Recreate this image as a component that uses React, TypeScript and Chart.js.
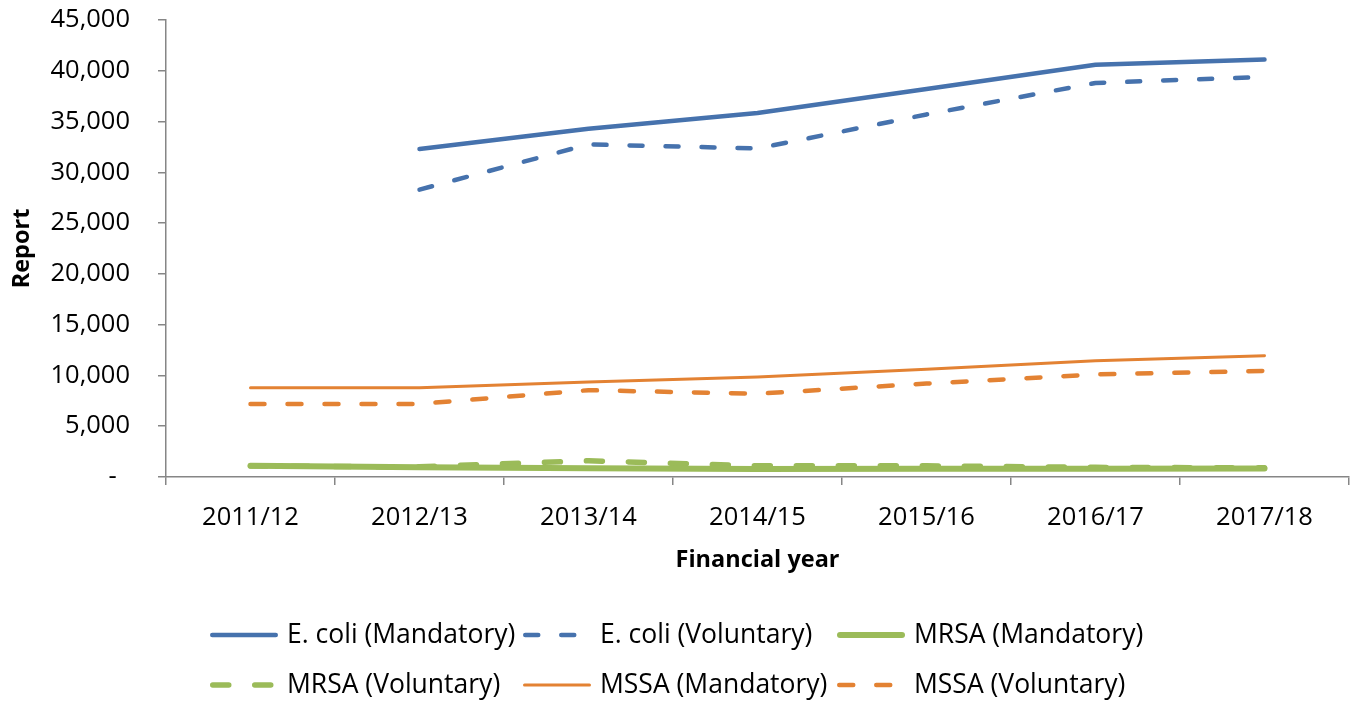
import React, { useEffect, useRef } from 'react';
import { Chart, registerables } from 'chart.js';

Chart.register(...registerables);

const categories = ['2011/12', '2012/13', '2013/14', '2014/15', '2015/16', '2016/17', '2017/18'];
const ecoliMandatory = [null, 32300, 34300, 35850, 38200, 40600, 41100];
const ecoliVoluntary = [null, 28300, 32750, 32350, 35700, 38800, 39400];
const mrsaMandatory = [1100, 950, 860, 800, 820, 820, 830];
const mrsaVoluntary = [1080, 1000, 1600, 1100, 1100, 950, 900];
const mssaMandatory = [8800, 8800, 9350, 9850, 10600, 11450, 11950];
const mssaVoluntary = [7180, 7200, 8550, 8200, 9200, 10100, 10450];
const seriesNames = [
  'E. coli (Mandatory)',
  'E. coli (Voluntary)',
  'MRSA (Mandatory)',
  'MRSA (Voluntary)',
  'MSSA (Mandatory)',
  'MSSA (Voluntary)',
];
const yMin = 0;
const yMax = 45000;
const yStep = 5000;

const FONT = '"Open Sans", sans-serif';
const AXIS = '#868686';
const BLUE = '#4672AD';
const GREEN = '#9BBB59';
const ORANGE = '#E38233';

const W = 1354;
const H = 702;

// legend layout (canvas = page coordinates)
const LEGEND_COLS = [210, 523, 837];
const LEGEND_ROWS = [635, 685];
const LEGEND_SAMPLE = 68;
const LEGEND_TEXT_GAP = 9;

const legendPlugin = {
  id: 'gridLegend',
  afterDraw(chart: any) {
    const ctx = chart.ctx as CanvasRenderingContext2D;
    chart.data.datasets.forEach((ds: any, i: number) => {
      const col = i % 3;
      const row = Math.floor(i / 3);
      const x = LEGEND_COLS[col];
      const y = LEGEND_ROWS[row];
      ctx.save();
      ctx.strokeStyle = ds.borderColor;
      ctx.lineWidth = ds.borderWidth;
      ctx.lineCap = 'round';
      ctx.setLineDash(ds.borderDash || []);
      ctx.beginPath();
      const half = ds.borderWidth / 2;
      ctx.moveTo(x + half, y);
      ctx.lineTo(x + LEGEND_SAMPLE - half, y);
      ctx.stroke();
      ctx.setLineDash([]);
      ctx.fillStyle = '#000';
      ctx.font = `26.5px ${FONT}`;
      ctx.textAlign = 'left';
      ctx.textBaseline = 'middle';
      ctx.fillText(ds.label, x + LEGEND_SAMPLE + LEGEND_TEXT_GAP, y);
      ctx.restore();
    });
  },
};

const noScalePadding = (s: any) => {
  s.paddingTop = 0;
  s.paddingBottom = 0;
  s.paddingLeft = 0;
  s.paddingRight = 0;
};

export default function App() {
  const ref = useRef<HTMLCanvasElement>(null);

  useEffect(() => {
    if (!ref.current) return;
    Chart.defaults.font.family = FONT;
    const base = {
      pointRadius: 0,
      pointHoverRadius: 0,
      tension: 0,
      fill: false,
      borderCapStyle: 'round' as const,
      borderJoinStyle: 'round' as const,
    };
    const chart = new Chart(ref.current, {
      type: 'line',
      data: {
        labels: categories,
        datasets: [
          { ...base, label: seriesNames[0], data: ecoliMandatory, borderColor: BLUE, backgroundColor: BLUE, borderWidth: 4.5 },
          { ...base, label: seriesNames[1], data: ecoliVoluntary, borderColor: BLUE, backgroundColor: BLUE, borderWidth: 4.5, borderDash: [13, 23] },
          { ...base, label: seriesNames[2], data: mrsaMandatory, borderColor: GREEN, backgroundColor: GREEN, borderWidth: 6 },
          { ...base, label: seriesNames[3], data: mrsaVoluntary, borderColor: GREEN, backgroundColor: GREEN, borderWidth: 5.5, borderDash: [16, 26] },
          { ...base, label: seriesNames[4], data: mssaMandatory, borderColor: ORANGE, backgroundColor: ORANGE, borderWidth: 3 },
          { ...base, label: seriesNames[5], data: mssaVoluntary, borderColor: ORANGE, backgroundColor: ORANGE, borderWidth: 4.5, borderDash: [14, 23] },
        ],
      },
      options: {
        animation: false,
        responsive: false,
        maintainAspectRatio: false,
        events: [],
        layout: { autoPadding: false, padding: { top: 20, right: 5, left: 0, bottom: 112 } },
        plugins: {
          tooltip: { enabled: false },
          legend: { display: false },
          title: { display: false },
        },
        scales: {
          x: {
            type: 'category',
            offset: true,
            grid: { offset: true, drawOnChartArea: false, drawTicks: true, tickLength: 8, color: AXIS, lineWidth: 1.5 },
            border: { color: AXIS, width: 1.5 },
            ticks: { color: '#000', font: { family: FONT, size: 25.5 }, padding: 17, maxRotation: 0, autoSkip: false },
            title: {
              display: true,
              text: 'Financial year',
              color: '#000',
              font: { family: FONT, size: 23.5, weight: 'bold' },
              padding: { top: 0, bottom: 16 },
            },
            afterFit: (s: any) => { s.height = 113; noScalePadding(s); },
          },
          y: {
            min: yMin,
            max: yMax,
            grid: { drawOnChartArea: false, drawTicks: true, tickLength: 8, color: AXIS, lineWidth: 1.5 },
            border: { color: AXIS, width: 1.5 },
            ticks: {
              stepSize: yStep,
              color: '#000',
              font: { family: FONT, size: 25.5 },
              padding: 28,
              callback: (v: any) => (Number(v) === 0 ? '-  ' : Number(v).toLocaleString('en-US')),
            },
            title: {
              display: true,
              text: 'Report',
              color: '#000',
              font: { family: FONT, size: 23.5, weight: 'bold' },
              padding: { top: 8, bottom: 0 },
            },
            afterFit: (s: any) => { s.width = 166; noScalePadding(s); },
          },
        },
      },
      plugins: [legendPlugin],
    });
    return () => chart.destroy();
  }, []);

  return (
    <div style={{ position: 'fixed', left: 0, top: 0, width: W, height: H, background: '#fff' }}>
      <canvas ref={ref} width={W} height={H} style={{ display: 'block', width: W, height: H }} />
    </div>
  );
}
